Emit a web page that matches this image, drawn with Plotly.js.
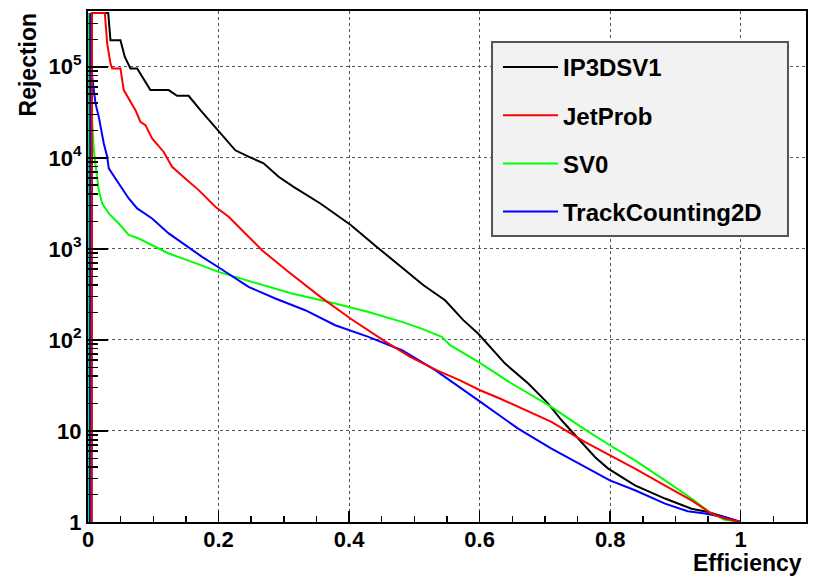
<!DOCTYPE html>
<html>
<head>
<meta charset="utf-8">
<script src="https://cdn.plot.ly/plotly-3.0.1.min.js"></script>
<style>html,body{margin:0;padding:0;background:#fff;}#chart{width:819px;height:577px;}</style>
</head>
<body>
<div id="chart"></div>
<script>
// ---- data (efficiency vs rejection) ----
const ip3dEff = [0.0055, 0.006, 0.031, 0.0344, 0.0497, 0.0563, 0.065, 0.0753, 0.0956, 0.1236, 0.1365, 0.1542, 0.1722, 0.190, 0.2028, 0.2257, 0.246, 0.269, 0.292, 0.315, 0.356, 0.402, 0.4425, 0.483, 0.514, 0.547, 0.575, 0.598, 0.639, 0.6745, 0.705, 0.7256, 0.7486, 0.7766, 0.797, 0.838, 0.884, 0.9246, 0.950, 0.9755, 1.0];
const ip3dRej = [1, 3.9e5, 3.9e5, 1.96e5, 1.96e5, 1.29e5, 9.6e4, 9.6e4, 5.55e4, 5.55e4, 4.8e4, 4.8e4, 3.34e4, 2.4e4, 1.87e4, 1.21e4, 1.03e4, 8.7e3, 6.2e3, 4.8e3, 3.15e3, 1.84e3, 1.05e3, 610, 399, 273, 165, 117, 55, 33.2, 20, 13.1, 8.6, 5.18, 3.86, 2.53, 1.81, 1.40, 1.29, 1.13, 1];

const jetProbEff = [0.0055, 0.006, 0.0257, 0.0294, 0.0344, 0.037, 0.0497, 0.0548, 0.0727, 0.0803, 0.088, 0.0982, 0.116, 0.1288, 0.149, 0.1696, 0.195, 0.2155, 0.236, 0.2666, 0.304, 0.356, 0.402, 0.4527, 0.4935, 0.534, 0.570, 0.6006, 0.631, 0.659, 0.710, 0.761, 0.7995, 0.838, 0.8787, 0.9246, 0.955, 0.9755, 1.0];
const jetProbRej = [1, 3.9e5, 3.9e5, 1.81e5, 1.09e5, 9.6e4, 9.6e4, 5.55e4, 3.34e4, 2.49e4, 2.29e4, 1.63e4, 1.16e4, 7.96e3, 5.94e3, 4.42e3, 2.9e3, 2.25e3, 1.6e3, 967, 583, 297, 172, 99, 65, 46.5, 36, 28, 22.7, 18.4, 12.6, 7.57, 5.41, 3.86, 2.64, 1.73, 1.24, 1.09, 1];

const sv0Eff = [0.0005, 0.001, 0.0064, 0.0089, 0.0125, 0.0165, 0.0217, 0.0318, 0.0471, 0.0624, 0.0777, 0.0982, 0.1236, 0.1594, 0.2, 0.2513, 0.3125, 0.3787, 0.4297, 0.481, 0.511, 0.542, 0.5547, 0.598, 0.649, 0.710, 0.761, 0.7995, 0.838, 0.884, 0.9246, 0.955, 0.9755, 1.0];
const sv0Rej = [1, 3.9e5, 2.6e4, 1.22e4, 7.35e3, 4.42e3, 3.16e3, 2.45e3, 1.9e3, 1.42e3, 1.3e3, 1.1e3, 890, 720, 559, 434, 324, 251, 203, 158, 133, 108, 87.5, 57.3, 33.2, 18.4, 10.4, 6.97, 4.76, 2.87, 1.81, 1.24, 1.06, 1];

const tc2dEff = [0.003, 0.0035, 0.0064, 0.0115, 0.0165, 0.0242, 0.0294, 0.0318, 0.0471, 0.0624, 0.0753, 0.0982, 0.1236, 0.149, 0.1748, 0.2028, 0.246, 0.287, 0.3328, 0.3787, 0.4297, 0.481, 0.532, 0.598, 0.659, 0.710, 0.761, 0.7995, 0.838, 0.884, 0.919, 0.945, 0.9755, 1.0];
const tc2dRej = [1, 3.9e5, 7.77e4, 3.96e4, 2.82e4, 1.44e4, 1.03e4, 7.65e3, 5.23e3, 3.58e3, 2.78e3, 2.16e3, 1.48e3, 1.1e3, 817, 609, 382, 285, 212, 145, 108, 77, 46.5, 21.7, 10.6, 6.41, 4.02, 2.87, 2.23, 1.59, 1.31, 1.24, 1.13, 1];

const seriesNames = ["IP3DSV1", "JetProb", "SV0", "TrackCounting2D"];
const xTickVals = [0, 0.2, 0.4, 0.6, 0.8, 1];
const xTickText = ["0", "0.2", "0.4", "0.6", "0.8", "1"];
const yTickVals = [1, 10, 100, 1000, 10000, 100000];
const yTickText = ["1", "10", "10<sup>2</sup>", "10<sup>3</sup>", "10<sup>4</sup>", "10<sup>5</sup>"];
const xTitle = "Efficiency";
const yTitle = "Rejection";

// ---- styling ----
const FONT = "Liberation Sans, Arial, Helvetica, sans-serif";
const XRANGE = [0, 1.1];
const YRANGE = [0, Math.log10(4.1e5)];
function tr(x, y, name, color, rank) {
  return {x: x, y: y, name: name, type: "scatter", mode: "lines",
    line: {color: color, width: 2, shape: "linear"},
    legendgroup: name, legendrank: rank, hoverinfo: "skip"};
}
const traces = [
  tr(ip3dEff, ip3dRej, seriesNames[0], "#000000", 1),
  tr(sv0Eff, sv0Rej, seriesNames[2], "#00ff00", 3),
  tr(tc2dEff, tc2dRej, seriesNames[3], "#0000ff", 4),
  tr(jetProbEff, jetProbRej, seriesNames[1], "#ff0000", 2)
];

const layout = {
  width: 819, height: 577,
  margin: {l: 88, r: 13, t: 11, b: 55},
  paper_bgcolor: "#ffffff", plot_bgcolor: "#ffffff",
  font: {family: FONT, size: 22, color: "#000"},
  showlegend: true,
  legend: {
    x: 0.571, y: 0.9337, xanchor: "left", yanchor: "top",
    bgcolor: "rgba(0,0,0,0)", borderwidth: 0,
    font: {family: FONT, size: 24, color: "#000", weight: "bold"},
    traceorder: "grouped", tracegroupgap: 14, itemwidth: 55
  },
  xaxis: {
    range: XRANGE, tickmode: "array", tickvals: xTickVals, ticktext: xTickText,
    ticks: "inside", ticklen: 11, tickwidth: 1.5, tickcolor: "#000",
    ticklabelstandoff: -3,
    showline: true, linecolor: "#000", linewidth: 2, mirror: true,
    showgrid: true, gridcolor: "#555", griddash: "dot", gridwidth: 1,
    zeroline: false,
    tickfont: {family: FONT, size: 22, color: "#000", weight: "bold"},
    minor: {dtick: 0.05, ticks: "inside", ticklen: 6, tickwidth: 1.5, tickcolor: "#000", showgrid: false}
  },
  yaxis: {
    type: "log", range: YRANGE,
    tickmode: "array", tickvals: yTickVals, ticktext: yTickText,
    ticks: "inside", ticklen: 20, tickwidth: 1.5, tickcolor: "#000",
    showline: true, linecolor: "#000", linewidth: 2, mirror: true,
    showgrid: true, gridcolor: "#555", griddash: "dot", gridwidth: 1,
    zeroline: false,
    tickfont: {family: FONT, size: 22, color: "#000", weight: "bold"},
    minor: {dtick: "D1", ticks: "inside", ticklen: 10, tickwidth: 1.5, tickcolor: "#000", showgrid: false}
  },
  shapes: [{
    type: "rect", xref: "paper", yref: "paper", layer: "above",
    x0: 0.5627, x1: 0.9749, y0: 0.5597, y1: 0.9393,
    fillcolor: "#f2f2f2", line: {color: "#555", width: 2}
  }],
  annotations: [
    {text: xTitle, xref: "paper", yref: "paper", x: 0.997, y: -0.0802, xanchor: "right", yanchor: "middle",
     showarrow: false, font: {family: FONT, size: 23, color: "#000", weight: "bold"}},
    {text: yTitle, xref: "paper", yref: "paper", x: -0.0829, y: 1.002, xanchor: "center", yanchor: "top",
     textangle: -90, showarrow: false, font: {family: FONT, size: 23, color: "#000", weight: "bold"}}
  ]
};

Plotly.newPlot("chart", traces, layout, {displayModeBar: false, staticPlot: true});
</script>
</body>
</html>
